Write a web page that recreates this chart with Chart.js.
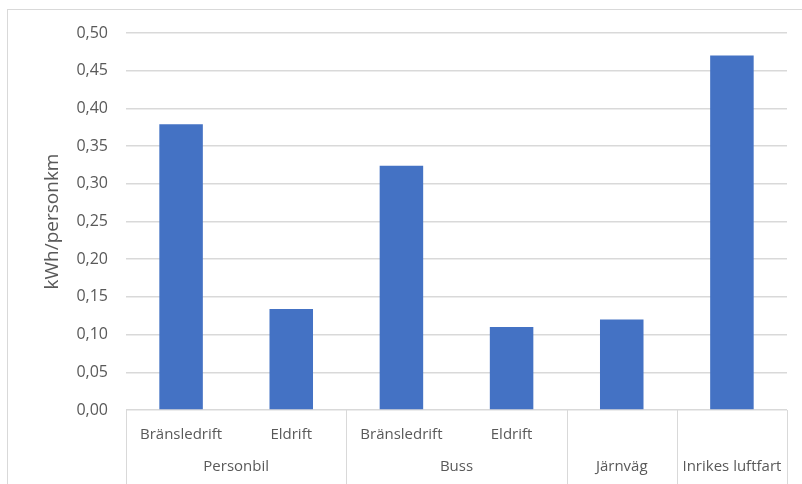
<!DOCTYPE html>
<html>
<head>
<meta charset="utf-8">
<script src="https://cdn.jsdelivr.net/npm/chart.js@4.4.1/dist/chart.umd.min.js"></script>
<style>
  html, body { margin: 0; padding: 0; background: #fff; overflow: hidden; }
  #wrap { position: relative; width: 802px; height: 484px; }
  #frame {
    position: absolute; left: 7px; top: 9px; width: 820px; height: 500px;
    border: 1px solid #d9d9d9; box-sizing: border-box;
  }
  canvas { position: absolute; left: 0; top: 0; }
</style>
</head>
<body>
<div id="wrap">
  <div id="frame"></div>
  <canvas id="chart" width="802" height="484"></canvas>
</div>
<script>
// ── Data ──────────────────────────────────────────────────────
const subLabels  = ['Bränsledrift', 'Eldrift', 'Bränsledrift', 'Eldrift', '', ''];
const groups     = ['Personbil', 'Buss', 'Järnväg', 'Inrikes luftfart'];
const groupSizes = [2, 2, 1, 1];
const values     = [0.379, 0.134, 0.324, 0.110, 0.120, 0.470];
const yTicks     = [0, 0.05, 0.10, 0.15, 0.20, 0.25, 0.30, 0.35, 0.40, 0.45, 0.50];

const TEXT  = '#595959';
const GRID  = '#d9d9d9';
const FONT  = "'Open Sans', sans-serif";

// ── Plugin: group row + separator lines under the x axis ─────
const groupAxis = {
  id: 'groupAxis',
  afterDraw(chart) {
    const x = chart.scales.x;
    const ctx = chart.ctx;
    const half = (x.getPixelForValue(1) - x.getPixelForValue(0)) / 2;
    ctx.save();
    ctx.strokeStyle = GRID;
    ctx.lineWidth = 1;
    ctx.fillStyle = TEXT;
    ctx.font = '15px ' + FONT;
    ctx.textAlign = 'center';
    ctx.textBaseline = 'middle';

    let start = 0;
    const edges = [x.getPixelForValue(0) - half];
    groups.forEach(function (g, i) {
      const end = start + groupSizes[i] - 1;
      const left  = x.getPixelForValue(start) - half;
      const right = x.getPixelForValue(end) + half;
      edges.push(right);
      ctx.fillText(g, (left + right) / 2, x.top + 57);
      start = end + 1;
    });

    edges.forEach(function (px) {
      const p = Math.round(px) + 0.5;
      ctx.beginPath();
      ctx.moveTo(p, x.top);
      ctx.lineTo(p, chart.height);
      ctx.stroke();
    });
    ctx.restore();
  }
};

new Chart(document.getElementById('chart'), {
  type: 'bar',
  data: {
    labels: subLabels,
    datasets: [{
      data: values,
      backgroundColor: '#4472C4',
      borderWidth: 0,
      categoryPercentage: 1,
      barPercentage: 0.395
    }]
  },
  options: {
    responsive: false,
    animation: false,
    layout: { padding: { top: 33, right: 15, left: 0, bottom: 0 } },
    plugins: { legend: { display: false }, tooltip: { enabled: false } },
    scales: {
      x: {
        grid: { display: false },
        border: { display: false },
        ticks: {
          color: TEXT,
          font: { family: FONT, size: 15 },
          padding: 8,
          maxRotation: 0,
          autoSkip: false
        },
        afterFit(scale) { scale.height = 74; }
      },
      y: {
        min: 0,
        max: 0.5,
        afterBuildTicks(scale) {
          scale.ticks = yTicks.map(function (v) { return { value: v }; });
        },
        grid: { color: GRID, lineWidth: 1.5, drawTicks: false },
        border: { display: false },
        ticks: {
          color: TEXT,
          font: { family: FONT, size: 16 },
          padding: 18,
          callback: function (v) { return v.toFixed(2).replace('.', ','); }
        },
        title: {
          display: true,
          text: 'kWh/personkm',
          color: TEXT,
          font: { family: FONT, size: 19 },
          padding: { top: 41, bottom: 0 }
        },
        afterFit(scale) { scale.width = 126; }
      }
    }
  },
  plugins: [groupAxis]
});
</script>
</body>
</html>
